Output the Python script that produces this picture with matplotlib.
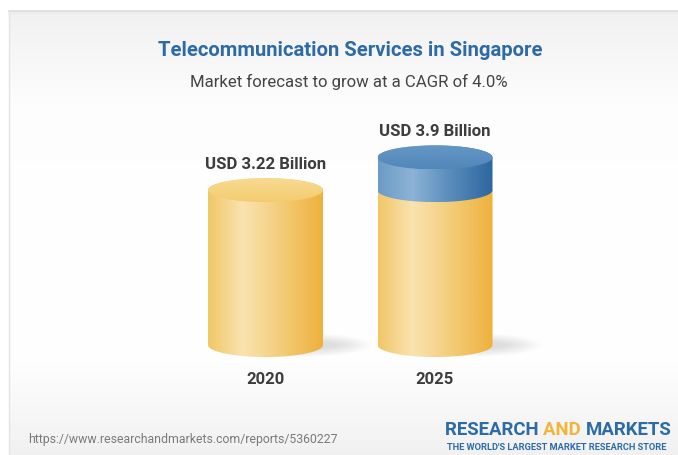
import numpy as np
import matplotlib
matplotlib.use("Agg")
import matplotlib.pyplot as plt
from matplotlib.path import Path
from matplotlib.patches import PathPatch, Ellipse
from matplotlib.colors import LinearSegmentedColormap

# ---- data ----
years = ["2020", "2025"]
values = [3.22, 3.9]
value_labels = ["USD 3.22 Billion", "USD 3.9 Billion"]
base_value = values[0]
title = "Telecommunication Services in Singapore"
subtitle = "Market forecast to grow at a CAGR of 4.0%"
url = "https://www.researchandmarkets.com/reports/5360227"

plt.rcParams["font.family"] = ["Roboto", "DejaVu Sans"]

W, H = 678, 456
fig = plt.figure(figsize=(W / 100, H / 100), dpi=100)
fig.patch.set_facecolor("white")

# ---- background card ----
bg = fig.add_axes([0, 0, 1, 1])
bg.set_xlim(0, W)
bg.set_ylim(H, 0)
bg.axis("off")
ys = np.linspace(0, 1, 256)
stops_y = [0.0, 0.22, 0.78, 1.0]
stops_v = [0.945, 0.995, 1.0, 0.945]
grad = np.interp(ys, stops_y, stops_v)
img = np.stack([grad, grad, grad], axis=-1)[:, None, :].repeat(2, axis=1)
bg.imshow(img, extent=[9, W, H, 12], aspect="auto", zorder=0, interpolation="bilinear")
bg.plot([9, W], [12, 12], color="#dcdcdc", lw=1.2, zorder=1)
bg.plot([9, 9], [12, H], color="#e4e4e4", lw=1.0, zorder=1)
bg.plot([9, W], [13.5, 13.5], color="#ececec", lw=1.5, zorder=1)

bg.text(350, 50, title, ha="center", va="center", fontsize=14.6,
        fontweight="bold", color="#2d6ba6")
bg.text(349, 82, subtitle, ha="center", va="center", fontsize=12.1,
        color="#444444")
bg.text(28, 440, url, ha="left", va="center", fontsize=8.8, color="#7a7a7a")
# logo
LOGO_FS = 13.4
t1 = bg.text(445, 430, "RESEARCH ", ha="left", va="center", fontsize=LOGO_FS,
             fontweight="bold", color="#2d6ba6")
fig.canvas.draw()
r = fig.canvas.get_renderer()
bb = t1.get_window_extent(r)
x_and = 445 + bb.width
t2 = bg.text(x_and, 430, "AND ", ha="left", va="center", fontsize=LOGO_FS,
             fontweight="bold", color="#f0b53a")
bb2 = t2.get_window_extent(r)
bg.text(x_and + bb2.width, 430, "MARKETS", ha="left", va="center", fontsize=LOGO_FS,
        fontweight="bold", color="#2d6ba6")
bg.text(447, 448, "THE WORLD'S LARGEST MARKET RESEARCH STORE", ha="left",
        va="center", fontsize=6.7, fontweight="bold", color="#2d6ba6")

# ---- cylinder axes ----
ppu = 48.1  # pixels per value unit
y0_px = 346
ylo, yhi = -0.5, 5.0
ax_bottom = (H - y0_px) - (-ylo) * ppu
ax_height = (yhi - ylo) * ppu
xc0, spacing = 265.5, 169.5
ax = fig.add_axes([(xc0 - spacing) / W, ax_bottom / H, (3 * spacing) / W, ax_height / H])
ax.set_xlim(-1.0, 2.0)
ax.set_ylim(ylo, yhi)
ax.axis("off")
ax.patch.set_alpha(0)
positions = [0.0, 1.0]

bar_w = 115 / spacing  # in x-units
ry = 12 / ppu

yellow_cmap = LinearSegmentedColormap.from_list(
    "y", [(0, "#f1c766"), (0.3, "#fae3b1"), (0.6, "#f4cf80"), (1, "#eeb13c")])
blue_cmap = LinearSegmentedColormap.from_list(
    "b", [(0, "#6c9bc6"), (0.3, "#8db3d6"), (0.6, "#5d8fbe"), (1, "#2c679f")])


def seg_path(xc, ya, yb, w, ry_):
    t1_ = np.linspace(np.pi, 2 * np.pi, 60)
    lower = np.column_stack([xc + w / 2 * np.cos(t1_), ya + ry_ * np.sin(t1_)])
    t2_ = np.linspace(0, np.pi, 60)
    upper = np.column_stack([xc + w / 2 * np.cos(t2_), yb + ry_ * np.sin(t2_)])
    verts = np.vstack([lower, upper, lower[:1]])
    codes = [Path.MOVETO] + [Path.LINETO] * (len(verts) - 2) + [Path.CLOSEPOLY]
    return Path(verts, codes)


def draw_segment(xc, ya, yb, cmap, z):
    p = seg_path(xc, ya, yb, bar_w, ry)
    patch = PathPatch(p, facecolor="none", edgecolor="none", zorder=z)
    ax.add_patch(patch)
    g = np.linspace(0, 1, 256)[None, :]
    im = ax.imshow(g, cmap=cmap, extent=[xc - bar_w / 2, xc + bar_w / 2, ya - ry, yb + ry],
                   aspect="auto", zorder=z, interpolation="bilinear")
    im.set_clip_path(patch)


def draw_top(xc, y, c_back, c_front, z):
    e = Ellipse((xc, y), bar_w, 2 * ry, facecolor="none", edgecolor="none", zorder=z)
    ax.add_patch(e)
    g = np.linspace(0, 1, 64)[:, None]
    cm = LinearSegmentedColormap.from_list("t", [c_front, c_back])
    im = ax.imshow(g, cmap=cm, extent=[xc - bar_w / 2, xc + bar_w / 2, y - ry, y + ry],
                   origin="lower", aspect="auto", zorder=z, interpolation="bilinear")
    im.set_clip_path(e)


for i, (yr, v, lab) in enumerate(zip(years, values, value_labels)):
    xc = positions[i]
    # soft shadow
    for k in range(16):
        f = k / 15
        ax.add_patch(Ellipse((xc + bar_w * 0.30, 0.0), bar_w * (1.25 - 0.6 * f),
                             ry * (2.0 - 1.3 * f), facecolor="#b0b0b0",
                             edgecolor="none", alpha=0.022, zorder=2))
    ylow = min(v, base_value)
    draw_segment(xc, 0, ylow, yellow_cmap, 3)
    if v > base_value:
        draw_segment(xc, base_value, v, blue_cmap, 4)
        draw_top(xc, v, "#6597c5", "#5287ba", 5)
    else:
        draw_top(xc, v, "#f8da92", "#f4cc6e", 5)
    ax.text(xc, v + 0.55, lab, ha="center", va="center", fontsize=12.1,
            fontweight="bold", color="#3d3d3d", zorder=6)
    ax.text(xc, -0.69, yr, ha="center", va="center", fontsize=12,
            fontweight="bold", color="#3d3d3d", zorder=6)

fig.savefig("out.png", dpi=100)
